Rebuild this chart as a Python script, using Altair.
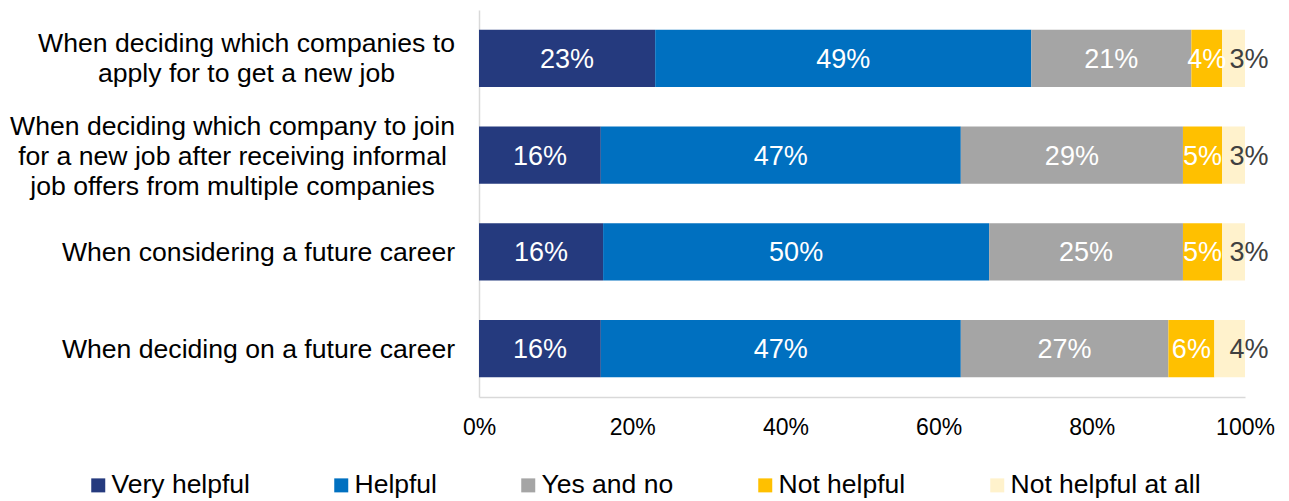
import altair as alt
import pandas as pd

questions = [
    "When deciding which companies to|apply for to get a new job",
    "When deciding which company to join|for a new job after receiving informal|job offers from multiple companies",
    "When considering a future career",
    "When deciding on a future career",
]
categories = ["Very helpful", "Helpful", "Yes and no", "Not helpful", "Not helpful at all"]
colors = ["#253A7E", "#0070C0", "#A5A5A5", "#FFC000", "#FFF2CC"]

very_helpful = [23.0, 15.9, 16.2, 15.9]
helpful = [49.1, 47.0, 50.4, 47.0]
yes_and_no = [20.9, 29.0, 25.3, 27.1]
not_helpful = [4.0, 5.1, 5.1, 6.0]
not_helpful_at_all = [3.0, 3.0, 3.0, 4.0]
x_ticks = [0, 20, 40, 60, 80, 100]

series = [very_helpful, helpful, yes_and_no, not_helpful, not_helpful_at_all]
rows = []
for qi, q in enumerate(questions):
    for ci, cat in enumerate(categories):
        rows.append({"q": q, "cat": cat, "order": ci, "value": series[ci][qi]})
df = pd.DataFrame(rows)

FONT = "Liberation Sans"

base = alt.Chart(df).transform_stack(
    stack="value", groupby=["q"], sort=[alt.SortField("order")], as_=["x0", "x1"]
).transform_calculate(
    mid="(datum.x0 + datum.x1) / 2",
    label="format(datum.value, '.0f') + '%'",
)

y_pad = {
    "condition": [
        {"test": "indexof(datum.value, 'companies to|') >= 0", "value": 233},
        {"test": "indexof(datum.value, 'company to join') >= 0", "value": 247},
    ],
    "value": 221,
}
y_off = {
    "condition": [
        {"test": "indexof(datum.value, 'companies to|') >= 0", "value": -14},
        {"test": "indexof(datum.value, 'company to join') >= 0", "value": -28},
    ],
    "value": 1,
}

y_enc = alt.Y(
    "q:N",
    sort=questions,
    scale=alt.Scale(paddingInner=0.41, paddingOuter=0.205),
    axis=alt.Axis(
        title=None,
        labelExpr="split(datum.label, '|')",
        labelAlign="center",
        labelBaseline="middle",
        labelPadding=y_pad,
        labelOffset=y_off,
        labelFontSize=26.6,
        labelLineHeight=30,
        labelLimit=600,
        labelFont=FONT,
        labelColor="black",
        ticks=False,
        tickSize=0,
        domainColor="#D9D9D9",
        domainWidth=1.5,
        grid=False,
    ),
)

bars = base.mark_bar().encode(
    y=y_enc,
    x=alt.X(
        "x0:Q",
        scale=alt.Scale(domain=[0, 100], nice=False, zero=True),
        axis=alt.Axis(
            title=None,
            values=x_ticks,
            labelExpr="datum.value + '%'",
            labelFontSize=23,
            labelFont=FONT,
            labelColor="black",
            labelPadding=19,
            labelFlush=False,
            ticks=False,
            tickSize=0,
            domainColor="#D9D9D9",
            domainWidth=1.5,
            grid=False,
        ),
    ),
    x2="x1:Q",
    color=alt.Color(
        "cat:N",
        sort=categories,
        scale=alt.Scale(domain=categories, range=colors),
        legend=alt.Legend(
            title=None,
            orient="none",
            legendX=-394,
            legendY=462,
            direction="horizontal",
            columns=5,
            columnPadding=78,
            symbolType="square",
            symbolSize=196,
            symbolStrokeWidth=0,
            labelOffset=0,
            labelFontSize=26.5,
            labelFont=FONT,
            labelColor="black",
            labelLimit=400,
            padding=0,
        ),
    ),
)

white_text = base.transform_filter("datum.cat != 'Not helpful at all'").mark_text(
    color="white", fontSize=27, font=FONT, align="center", baseline="middle", dy=1.5
).encode(
    y=alt.Y("q:N", sort=questions),
    x=alt.X("mid:Q"),
    text="label:N",
)

dark_text = base.transform_filter("datum.cat == 'Not helpful at all'").mark_text(
    color="#404040", fontSize=27, font=FONT, align="center", baseline="middle", dx=4, dy=1.5
).encode(
    y=alt.Y("q:N", sort=questions),
    x=alt.X("x1:Q"),
    text="label:N",
)

chart = alt.layer(bars, white_text, dark_text).properties(
    width=766,
    height=387,
    autosize=alt.AutoSizeParams(type="none"),
    padding={"left": 479, "top": 10, "right": 44, "bottom": 104},
    background="white",
).configure_view(stroke=None)

chart.save("out.html", embed_options={"renderer": "svg", "actions": False})
